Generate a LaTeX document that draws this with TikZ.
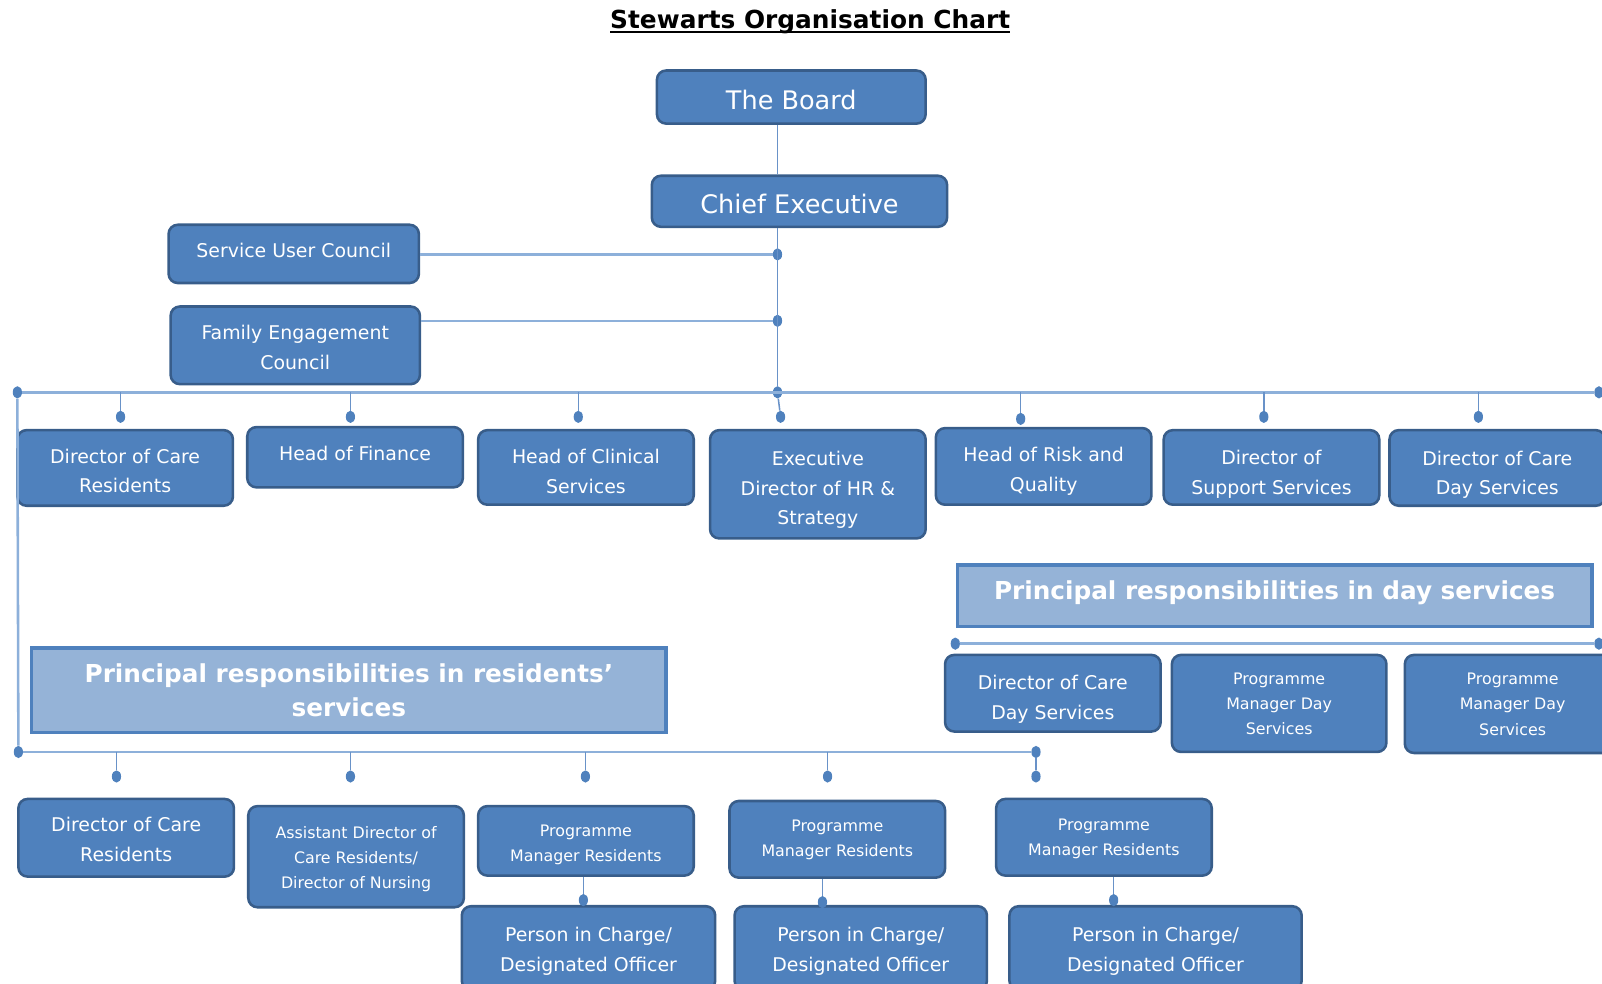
\documentclass[tikz,border=0pt]{standalone}
\usepackage{fontspec}
\setmainfont{DejaVu Sans}
\newcommand{\titleline}[1]{\setbox0\hbox{#1}\rlap{\rule[-4.5pt]{\wd0}{2.2pt}}\box0}
\newcommand{\rolelines}[2]{\raisebox{#1}[\height][\depth]{\begin{tabular}{@{}c@{}}#2\end{tabular}}}
\usetikzlibrary{positioning,shapes.geometric}

\definecolor{boxfill}{RGB}{79,129,189}
\definecolor{boxedge}{RGB}{56,93,138}
\definecolor{bannerfill}{RGB}{149,179,215}
\definecolor{busline}{RGB}{141,176,218}
\definecolor{dropline}{RGB}{105,146,200}

\tikzset{
  rolebox/.style={draw=boxedge, fill=boxfill, line width=2.5pt, rounded corners=9pt,
    text=white, align=center, inner sep=0pt, minimum width=211pt,
    font={\fontsize{18.5}{29}\selectfont}},
  smallbox/.style={rolebox, font={\fontsize{15.5}{24.5}\selectfont}},
  bigbox/.style={rolebox, font={\fontsize{25}{30}\selectfont}},
  banner/.style={draw=boxfill, fill=bannerfill, line width=3.5pt, text=white,
    align=center, inner sep=0pt, font={\bfseries\fontsize{24.2}{34}\selectfont}},
  joint/.style={ellipse, fill=boxfill, inner sep=0pt, minimum width=9pt, minimum height=12pt},
  bus/.style={draw=busline, line width=2.5pt},
  drop/.style={draw=dropline, line width=1.5pt}
}

\begin{document}
\begin{tikzpicture}[x=1pt, y=-1pt]

\useasboundingbox (0,0) rectangle (1568,963);
\clip (0,0) rectangle (1568,963);

\node [font={\bfseries\fontsize{24.3}{28}\selectfont}] (title) at (793,21) {\titleline{Stewarts Organisation Chart}};

\node [bigbox, minimum width=263pt, minimum height=52pt] (board) at (774.5,95) {\rolelines{-6pt}{The Board}};
\node [bigbox, minimum width=289pt, minimum height=50pt] (ceo) at (782.5,197) {\rolelines{-6pt}{Chief Executive}};

\node [rolebox, minimum width=245pt, minimum height=57pt] (suc) at (287.5,248.5) {\rolelines{2.5pt}{Service User Council}};
\node [rolebox, minimum width=244pt, minimum height=76pt] (fec) at (289,338) {\rolelines{-3pt}{Family Engagement\\Council}};

\node [joint] (sucj) at (761,249) {};
\node [joint] (fecj) at (761,314) {};
\node [joint] (hub) at (761,384) {};
\node [joint] (busL) at (17,384) {};
\node [joint] (busR) at (1565,384) {};

\draw [drop] (board.south -| hub) -- (ceo.north -| hub);
\draw [drop] (ceo.south -| hub) -- (hub);
\draw [bus] (suc.east |- sucj) -- (sucj);
\draw [bus] (fec.east |- fecj) -- (fecj);
\draw [bus] (busL) -- (busR);

\node [rolebox, minimum height=74pt] (dcr) at (122.5,458) {\rolelines{-4pt}{Director of Care\\Residents}};
\node [rolebox, minimum height=59pt] (hof) at (347.5,447.5) {\rolelines{3pt}{Head of Finance}};
\node [rolebox, minimum height=73pt] (hcs) at (573.5,457.5) {\rolelines{-5pt}{Head of Clinical\\Services}};
\node [rolebox, minimum height=106pt] (edhr) at (800.5,474) {\rolelines{-5pt}{Executive\\Director of HR \&\\Strategy}};
\node [rolebox, minimum height=75pt] (hrq) at (1021.5,456.5) {\rolelines{-4pt}{Head of Risk and\\Quality}};
\node [rolebox, minimum height=73pt] (dss) at (1244.5,457.5) {\rolelines{-6pt}{Director of\\Support Services}};
\node [rolebox, minimum height=74pt] (dcd) at (1465.5,458) {\rolelines{-6pt}{Director of Care\\Day Services}};

\node [joint] (dcrj) at (118,408) {};
\node [joint] (hofj) at (343,408) {};
\node [joint] (hcsj) at (566,408) {};
\node [joint] (edhrj) at (764,408) {};
\node [joint] (hrqj) at (999,410) {};
\node [joint] (dssj) at (1237,408) {};
\node [joint] (dcdj) at (1447,408) {};

\draw [drop] (dcrj |- busL) -- (dcrj);
\draw [drop] (hofj |- busL) -- (hofj);
\draw [drop] (hcsj |- busL) -- (hcsj);
\draw [drop] (hub) -- (edhrj);
\draw [drop] (hrqj |- busL) -- (hrqj);
\draw [drop] (dssj |- busL) -- (dssj);
\draw [drop] (dcdj |- busL) -- (dcdj);

\node [banner, minimum width=621pt, minimum height=60pt, text depth=11.5pt] (dayhead) at (1247.5,583) {Principal responsibilities in day services};

\node [joint] (dayL) at (935,630) {};
\node [joint] (dayR) at (1565,630) {};
\draw [bus] (dayL) -- (dayR);

\node [rolebox, minimum height=75pt] (dcd2) at (1030.5,678.5) {\rolelines{-5pt}{Director of Care\\Day Services}};
\node [smallbox, minimum width=210pt, minimum height=95pt] (pmd1) at (1252,688.5) {\rolelines{-1pt}{Programme\\Manager Day\\Services}};
\node [smallbox, minimum height=96pt] (pmd2) at (1480.5,689) {\rolelines{-1pt}{Programme\\Manager Day\\Services}};

\node [banner, minimum width=621pt, minimum height=83pt] (reshead) at (341.5,675.5) {Principal responsibilities in residents’\\services};

\node [joint] (resL) at (18,736) {};
\node [joint] (resR) at (1014,736) {};
\draw [bus] (busL) -- (resL);
\draw [bus] (resL) -- (resR);

\node [joint] (dcr2j) at (114,760) {};
\node [joint] (adcj) at (343,760) {};
\node [joint] (pmr1j) at (573,760) {};
\node [joint] (pmr2j) at (810,760) {};
\node [joint] (pmr3j) at (1014,760) {};

\draw [drop] (dcr2j |- resL) -- (dcr2j);
\draw [drop] (adcj |- resL) -- (adcj);
\draw [drop] (pmr1j |- resL) -- (pmr1j);
\draw [drop] (pmr2j |- resL) -- (pmr2j);
\draw [drop] (resR) -- (pmr3j);

\node [rolebox, minimum height=76pt] (dcr2) at (123.5,820) {\rolelines{-3pt}{Director of Care\\Residents}};
\node [smallbox, minimum height=99pt] (adc) at (348.5,838.5) {\rolelines{-1.5pt}{Assistant Director of\\Care Residents/\\Director of Nursing}};
\node [smallbox, minimum height=68pt] (pmr1) at (573.5,823) {\rolelines{-3pt}{Programme\\Manager Residents}};
\node [smallbox, minimum height=75pt] (pmr2) at (819.5,821.5) {\rolelines{0pt}{Programme\\Manager Residents}};
\node [smallbox, minimum height=75pt] (pmr3) at (1080.5,819.5) {\rolelines{-1pt}{Programme\\Manager Residents}};

\node [rolebox, minimum width=248pt, minimum height=82pt] (pic1) at (576,928) {\rolelines{-2.5pt}{Person in Charge/\\Designated Officer}};
\node [rolebox, minimum width=247pt, minimum height=82pt] (pic2) at (842.5,928) {\rolelines{-2.5pt}{Person in Charge/\\Designated Officer}};
\node [rolebox, minimum width=286pt, minimum height=82pt] (pic3) at (1131,928) {\rolelines{-2.5pt}{Person in Charge/\\Designated Officer}};

\node [joint] (pic1j) at (571,881) {};
\node [joint] (pic2j) at (805,883) {};
\node [joint] (pic3j) at (1090,881) {};

\draw [drop] (pmr1.south -| pic1j) -- (pic1j);
\draw [drop] (pmr2.south -| pic2j) -- (pic2j);
\draw [drop] (pmr3.south -| pic3j) -- (pic3j);

\end{tikzpicture}
\end{document}
